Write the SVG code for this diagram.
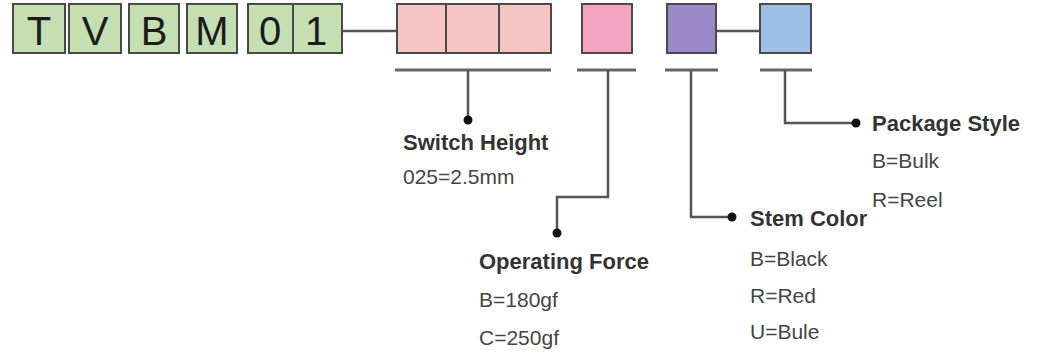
<svg xmlns="http://www.w3.org/2000/svg" width="1049" height="357" viewBox="0 0 1049 357">
<style>
.box{stroke:#4a4a4a;stroke-width:2}
.g{fill:#c4dfb2}
.p1{fill:#f7c5c2}
.p2{fill:#f4a3c3}
.pu{fill:#9b88c6}
.bl{fill:#9ebfe8}
.ln{stroke:#555;stroke-width:2.5;fill:none}
.bar{stroke:#666;stroke-width:3;fill:none}
.dot{fill:#111}
.code{font-family:"Liberation Sans",Arial,sans-serif;font-size:40px;fill:#1c1c1c;text-anchor:middle}
.h{font-family:"Liberation Sans",Arial,sans-serif;font-size:22px;font-weight:bold;fill:#333}
.t{font-family:"Liberation Sans",Arial,sans-serif;font-size:21px;fill:#444}
</style>
<rect width="1049" height="357" fill="#ffffff"/>
<g id="connectors">
<line class="ln" x1="342" y1="31" x2="397" y2="31"/>
<line class="ln" x1="716" y1="31" x2="760" y2="31"/>
<line class="bar" x1="395" y1="70" x2="551" y2="70"/>
<line class="bar" x1="577" y1="70" x2="636" y2="70"/>
<line class="bar" x1="665" y1="70" x2="718" y2="70"/>
<line class="bar" x1="760" y1="70" x2="812" y2="70"/>
<polyline class="ln" points="468,70 468,120"/>
<polyline class="ln" points="608,70 608,197 557,197 557,233"/>
<polyline class="ln" points="691,70 691,217 732,217"/>
<polyline class="ln" points="785,70 785,123 856,123"/>
<circle class="dot" cx="468" cy="120" r="4.5"/>
<circle class="dot" cx="557" cy="233" r="4.5"/>
<circle class="dot" cx="732" cy="217" r="4.5"/>
<circle class="dot" cx="856" cy="123" r="4.5"/>
</g>
<g id="code-T"><rect class="box g" x="13" y="4" width="52" height="49"/><text class="code" x="39" y="45">T</text></g>
<g id="code-V"><rect class="box g" x="69" y="4" width="52" height="49"/><text class="code" x="95" y="45">V</text></g>
<g id="code-B"><rect class="box g" x="129" y="4" width="50" height="49"/><text class="code" x="154" y="45">B</text></g>
<g id="code-M"><rect class="box g" x="187" y="4" width="50" height="49"/><text class="code" x="212" y="45">M</text></g>
<g id="code-0"><rect class="box g" x="248" y="4" width="45" height="49"/><text class="code" x="270" y="45">0</text></g>
<g id="code-1"><rect class="box g" x="293" y="4" width="49" height="49"/><text class="code" x="316" y="45">1</text></g>
<g id="switch-height-boxes">
<rect class="box p1" x="397" y="4" width="49" height="49"/>
<rect class="box p1" x="446" y="4" width="53" height="49"/>
<rect class="box p1" x="499" y="4" width="52" height="49"/>
</g>
<g id="operating-force-box"><rect class="box p2" x="582" y="4" width="50" height="49"/></g>
<g id="stem-color-box"><rect class="box pu" x="667" y="4" width="49" height="49"/></g>
<g id="package-style-box"><rect class="box bl" x="760" y="4" width="51" height="49"/></g>
<g id="switch-height">
<text class="h" x="403" y="150">Switch Height</text>
<text class="t" x="403" y="184">025=2.5mm</text>
</g>
<g id="operating-force">
<text class="h" x="479" y="269">Operating Force</text>
<text class="t" x="479" y="307">B=180gf</text>
<text class="t" x="479" y="345">C=250gf</text>
</g>
<g id="stem-color">
<text class="h" x="750" y="226">Stem Color</text>
<text class="t" x="750" y="266">B=Black</text>
<text class="t" x="750" y="303">R=Red</text>
<text class="t" x="750" y="339">U=Bule</text>
</g>
<g id="package-style">
<text class="h" x="872" y="131">Package Style</text>
<text class="t" x="872" y="168">B=Bulk</text>
<text class="t" x="872" y="207">R=Reel</text>
</g>
</svg>
